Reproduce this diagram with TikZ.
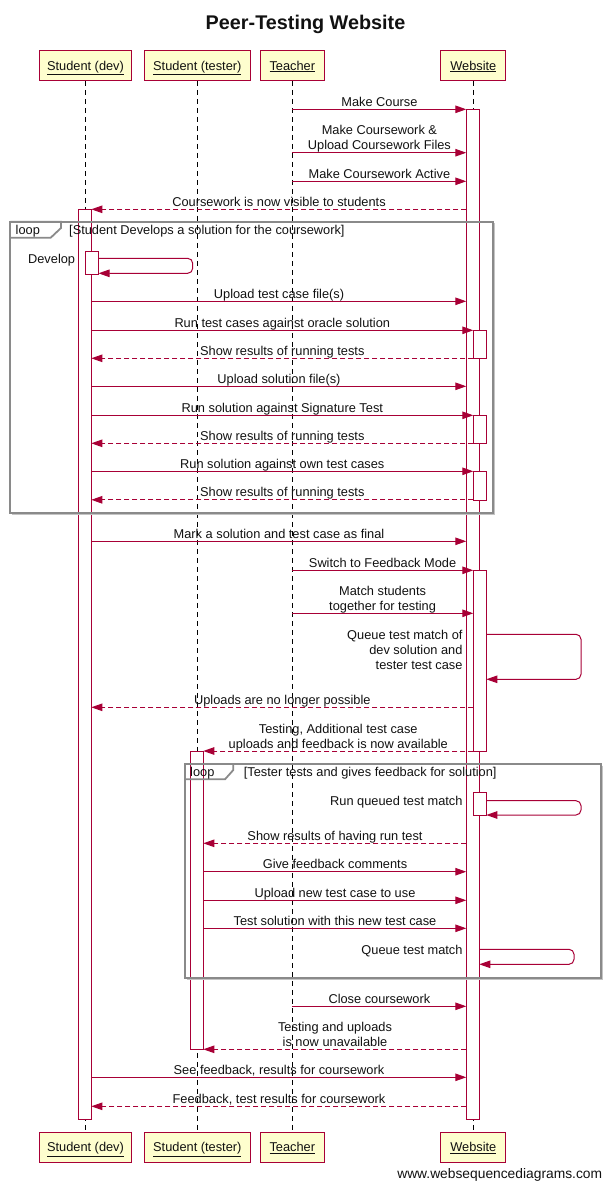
\documentclass[tikz,border=0pt]{standalone}
\usepackage{fontspec}
\setmainfont{Liberation Sans}
\usetikzlibrary{arrows.meta}
\definecolor{wsdred}{HTML}{A80036}
\definecolor{wsdfill}{HTML}{FEFECE}
\definecolor{framegray}{HTML}{8A8A8A}
\definecolor{shadowgray}{HTML}{C4C4C4}
\definecolor{txt}{HTML}{111111}
\begin{document}
\begin{tikzpicture}[x=1pt,y=-1pt,
  font=\fontsize{12.8}{15}\selectfont,
  every node/.style={text=txt},
  part/.style={draw=wsdred, line width=1.2pt, fill=wsdfill, minimum height=29.6pt, inner sep=0pt, text height=11pt, text depth=2pt},
  life/.style={draw=black, line width=0.9pt, dash pattern=on 5pt off 4pt},
  act/.style={draw=wsdred, line width=0.9pt, fill=white, minimum width=13pt, inner sep=0pt, outer sep=0pt},
  msg/.style={draw=wsdred, line width=1pt, -{Triangle[length=11pt,width=7.5pt]}},
  ret/.style={msg, dash pattern=on 5pt off 3pt},
  selfmsg/.style={msg, rounded corners=5pt},
  lbl/.style={anchor=base, inner sep=0pt},
  slbl/.style={anchor=base east, inner sep=0pt},
  flbl/.style={anchor=base west, inner sep=0pt},
  frameline/.style={draw=framegray, line width=1.8pt},
  frameshadow/.style={draw=shadowgray, line width=1.4pt}
]
\useasboundingbox (0,0) rectangle (611,1187);

% title
\node[anchor=base, inner sep=0pt, font=\fontsize{19.8}{22}\selectfont\bfseries] (title) at (305.5,29.3) {Peer-Testing Website};

% participants
\node[part, minimum width=92.4pt] (pdevT) at (85.5,65.5) {\underline{Student (dev)}};
\node[part, minimum width=106pt] (ptestT) at (197.3,65.5) {\underline{Student (tester)}};
\node[part, minimum width=64pt] (pteachT) at (292.3,65.5) {\underline{Teacher}};
\node[part, minimum width=65pt] (pwebT) at (473.3,65.5) {\underline{Website}};
\node[part, minimum width=92.4pt] (pdevB) at (85.5,1147.3) {\underline{Student (dev)}};
\node[part, minimum width=106pt] (ptestB) at (197.3,1147.3) {\underline{Student (tester)}};
\node[part, minimum width=64pt] (pteachB) at (292.3,1147.3) {\underline{Teacher}};
\node[part, minimum width=65pt] (pwebB) at (473.3,1147.3) {\underline{Website}};

% lifelines
\draw[life] (pdevT.south) -- (pdevB.north);
\draw[life] (ptestT.south) -- (ptestB.north);
\draw[life] (pteachT.south) -- (pteachB.north);
\draw[life] (pwebT.south) -- (pwebB.north);

% activations
\node[act, minimum height=910pt] (adev) at (84.8,664.3) {};
\node[act, minimum height=23.3pt] (adevD) at (92,262.65) {};
\node[act, minimum height=298.3pt] (atest) at (196.8,900.15) {};
\node[act, minimum height=1010pt] (aweb) at (472.8,614.3) {};
\node[act, minimum height=28pt] (aweb1) at (479.8,344.3) {};
\node[act, minimum height=28pt] (aweb2) at (479.8,429.3) {};
\node[act, minimum height=28.7pt] (aweb3) at (479.8,485.65) {};
\node[act, minimum height=180.7pt] (aweb4) at (479.8,660.65) {};
\node[act, minimum height=22.7pt] (aweb5) at (479.8,803.65) {};

% loop frames
\draw[frameshadow] (494.4,223.2) -- (494.4,514.1) -- (11.8,514.1);
\draw[frameline] (10.3,221.7) rectangle (493,512.7);
\draw[frameline] (10.3,221.7) -- (61,221.7) -- (61,228) -- (50.7,237.7) -- (10.3,237.7);
\node[flbl] (loop1) at (15.5,234.5) {loop};
\node[flbl] (loop1c) at (69,234.5) {[Student Develops a solution for the coursework]};

\draw[frameshadow] (602.1,765.5) -- (602.1,979.1) -- (186.5,979.1);
\draw[frameline] (185,764) rectangle (600.7,977.7);
\draw[frameline] (185,764) -- (233.3,764) -- (233.3,770) -- (225,779.3) -- (185,779.3);
\node[flbl] (loop2) at (190,776.3) {loop};
\node[flbl] (loop2c) at (243.7,776.3) {[Tester tests and gives feedback for solution]};

% messages
\draw[msg] (pteachT.south |- 0,109.3) -- (aweb.west |- 0,109.3);
\node[lbl] (m1) at (379.4,106.3) {Make Course};

\draw[msg] (pteachT.south |- 0,152.7) -- (aweb.west |- 0,152.7);
\node[lbl] (m2a) at (379.4,134.7) {Make Coursework \&};
\node[lbl] (m2b) at (379.4,149.7) {Upload Coursework Files};

\draw[msg] (pteachT.south |- 0,181.3) -- (aweb.west |- 0,181.3);
\node[lbl] (m3) at (379.4,178.3) {Make Coursework Active};

\draw[ret] (aweb.west |- 0,209.3) -- (adev.east |- 0,209.3);
\node[lbl] (m4) at (279,206.3) {Coursework is now visible to students};

\draw[selfmsg] (adevD.east |- 0,258.3) -- (192.7,258.3) -- (192.7,273.3) -- (adevD.east |- 0,273.3);
\node[slbl] (m5) at (75.3,263) {Develop};

\draw[msg] (adev.east |- 0,301.3) -- (aweb.west |- 0,301.3);
\node[lbl] (m6) at (279,298.3) {Upload test case file(s)};

\draw[msg] (adev.east |- 0,330.3) -- (aweb1.west |- 0,330.3);
\node[lbl] (m7) at (282.3,327.3) {Run test cases against oracle solution};

\draw[ret] (aweb1.west |- 0,358.3) -- (adev.east |- 0,358.3);
\node[lbl] (m8) at (282.3,355.3) {Show results of running tests};

\draw[msg] (adev.east |- 0,386.3) -- (aweb.west |- 0,386.3);
\node[lbl] (m9) at (279,383.3) {Upload solution file(s)};

\draw[msg] (adev.east |- 0,415.3) -- (aweb2.west |- 0,415.3);
\node[lbl] (m10) at (282.3,412.3) {Run solution against Signature Test};

\draw[ret] (aweb2.west |- 0,443.3) -- (adev.east |- 0,443.3);
\node[lbl] (m11) at (282.3,440.3) {Show results of running tests};

\draw[msg] (adev.east |- 0,471.3) -- (aweb3.west |- 0,471.3);
\node[lbl] (m12) at (282.3,468.3) {Run solution against own test cases};

\draw[ret] (aweb3.west |- 0,499.8) -- (adev.east |- 0,499.8);
\node[lbl] (m13) at (282.3,496.8) {Show results of running tests};

\draw[msg] (adev.east |- 0,541.3) -- (aweb.west |- 0,541.3);
\node[lbl] (m14) at (279,538.3) {Mark a solution and test case as final};

\draw[msg] (pteachT.south |- 0,570.3) -- (aweb4.west |- 0,570.3);
\node[lbl] (m15) at (382.6,567.3) {Switch to Feedback Mode};

\draw[msg] (pteachT.south |- 0,613.3) -- (aweb4.west |- 0,613.3);
\node[lbl] (m16a) at (382.6,595.8) {Match students};
\node[lbl] (m16b) at (382.6,610.7) {together for testing};

\draw[selfmsg] (aweb4.east |- 0,634.3) -- (581,634.3) -- (581,679.3) -- (aweb4.east |- 0,679.3);
\node[slbl] (m17a) at (462.7,639.2) {Queue test match of};
\node[slbl] (m17b) at (462.7,654.2) {dev solution and};
\node[slbl] (m17c) at (462.7,669.2) {tester test case};

\draw[ret] (aweb4.west |- 0,707.3) -- (adev.east |- 0,707.3);
\node[lbl] (m18) at (282.3,704.3) {Uploads are no longer possible};

\draw[ret] (aweb4.west |- 0,751) -- (atest.east |- 0,751);
\node[lbl] (m19a) at (338.3,733) {Testing, Additional test case};
\node[lbl] (m19b) at (338.3,748) {uploads and feedback is now available};

\draw[selfmsg] (aweb5.east |- 0,800.7) -- (581,800.7) -- (581,815) -- (aweb5.east |- 0,815);
\node[slbl] (m20) at (462.7,805.2) {Run queued test match};

\draw[ret] (aweb.west |- 0,843.3) -- (atest.east |- 0,843.3);
\node[lbl] (m21) at (335,840.3) {Show results of having run test};

\draw[msg] (atest.east |- 0,871.7) -- (aweb.west |- 0,871.7);
\node[lbl] (m22) at (335,868.7) {Give feedback comments};

\draw[msg] (atest.east |- 0,900.3) -- (aweb.west |- 0,900.3);
\node[lbl] (m23) at (335,897.3) {Upload new test case to use};

\draw[msg] (atest.east |- 0,928.3) -- (aweb.west |- 0,928.3);
\node[lbl] (m24) at (335,925.3) {Test solution with this new test case};

\draw[selfmsg] (aweb.east |- 0,949.3) -- (574,949.3) -- (574,964.3) -- (aweb.east |- 0,964.3);
\node[slbl] (m25) at (462.7,954) {Queue test match};

\draw[msg] (pteachT.south |- 0,1006.3) -- (aweb.west |- 0,1006.3);
\node[lbl] (m26) at (379.4,1003.3) {Close coursework};

\draw[ret] (aweb.west |- 0,1049.3) -- (atest.east |- 0,1049.3);
\node[lbl] (m27a) at (335,1031.3) {Testing and uploads};
\node[lbl] (m27b) at (335,1046.3) {is now unavailable};

\draw[msg] (adev.east |- 0,1077.3) -- (aweb.west |- 0,1077.3);
\node[lbl] (m28) at (279,1074.3) {See feedback, results for coursework};

\draw[ret] (aweb.west |- 0,1106.3) -- (adev.east |- 0,1106.3);
\node[lbl] (m29) at (279,1103.3) {Feedback, test results for coursework};

% footer
\node[anchor=base east, inner sep=0pt, font=\fontsize{13.8}{16}\selectfont] (footer) at (602.3,1178.3) {www.websequencediagrams.com};
\end{tikzpicture}
\end{document}
